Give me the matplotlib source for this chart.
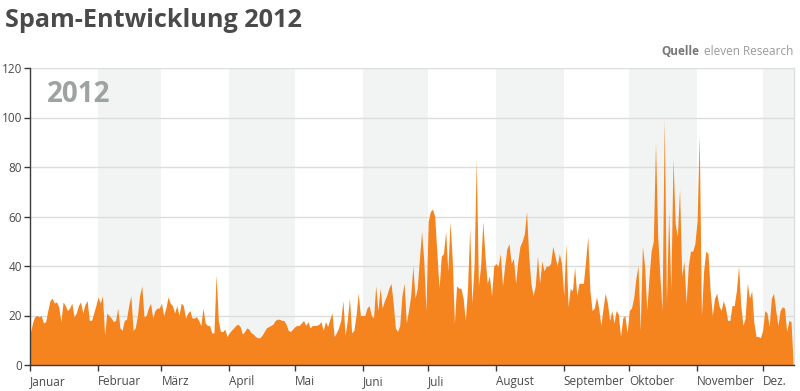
import numpy as np
import matplotlib
matplotlib.use("Agg")
import matplotlib.pyplot as plt

# ---- data -------------------------------------------------------------
# daily spam index, 1 Jan 2012 .. 15 Dec 2012 (day index 0..349)
spam_values = [
    12.8, 17, 19.5, 20, 19.5, 20, 17, 17.5, 22, 26,
    27, 25, 25.5, 23.5, 17.5, 25.5, 24, 22, 23, 25,
    19.5, 21, 24, 25.5, 21, 24.5, 26, 18, 18, 21,
    24, 27.5, 25, 28, 12, 21, 20, 19, 17.5, 18,
    23, 15, 14, 18, 18.5, 24, 28, 14, 15, 20,
    28, 32, 19.5, 20, 23, 25, 19, 22, 23, 23,
    25, 20, 23, 27.5, 25, 24, 21, 24, 20, 25,
    24, 19, 21, 22, 19, 19, 19.5, 18, 16, 23,
    17, 16, 16, 13, 13, 36.5, 18, 13.5, 13.5, 14.5,
    11.5, 13, 14, 15, 16, 16.5, 15.5, 12.5, 13.5, 15,
    14.5, 13, 12.5, 11.5, 11, 11, 12, 13.5, 15, 15.5,
    16, 16.5, 18, 18.5, 18.5, 18, 18, 16.5, 14, 13.5,
    14.5, 15.5, 16, 16, 17, 18, 16, 17.5, 15, 16,
    16, 16, 16.5, 17.5, 14, 17.5, 15.5, 18.5, 21, 11.5,
    13, 15, 18, 26, 12, 18, 27, 13, 14, 20,
    29, 20, 20, 20, 23, 24, 20, 19, 32, 22,
    31, 23, 26, 28, 31, 33, 25, 15, 13.5, 16,
    28, 33, 17, 22, 28, 40, 27, 31, 43, 54,
    42, 22, 58, 62, 63, 60, 45, 31, 44, 45,
    54, 38, 58, 43, 17, 32, 31, 31, 27, 18,
    31, 55, 25, 40, 83, 32, 40, 58, 44, 33,
    36, 28, 40, 41, 40, 45, 32, 40, 47, 49,
    41, 43, 33, 42, 48, 50, 53, 62, 44, 33,
    28, 32, 44, 33, 42, 38, 40, 40, 41, 48,
    44, 40, 45, 41, 28, 49, 23.5, 31, 30, 39.5,
    28, 33, 33, 33, 42, 52, 30, 22, 23, 27.5,
    23, 16, 23, 29, 25, 18, 22, 17, 22, 20.5,
    11.5, 19, 20, 13, 22, 23, 27, 35, 40, 14,
    48, 40, 22, 35, 46, 50, 90, 52, 36, 22,
    99.5, 25, 62, 30, 83.5, 57, 52, 71, 36, 42,
    25, 40, 46, 46, 49, 58, 93, 20, 38, 46,
    45, 30, 20, 27, 29, 24, 22, 26, 23, 18,
    18, 24, 24, 30, 40, 24, 16, 19, 33, 27,
    30, 17, 11.5, 11.5, 11, 14, 22, 21, 15.5, 27,
    29, 22, 16, 22, 23.5, 23, 13.5, 18, 17.5, 0,
]
days = np.arange(len(spam_values))

month_labels = ["Januar", "Februar", "März", "April", "Mai", "Juni", "Juli",
                "August", "September", "Oktober", "November", "Dez."]
month_starts = [0, 31, 60, 91, 121, 152, 182, 213, 244, 274, 305, 335]
month_ends = month_starts[1:] + [366]
y_ticks = [0, 20, 40, 60, 80, 100, 120]

title = "Spam-Entwicklung 2012"
year_label = "2012"

# ---- style ------------------------------------------------------------
FONT = "Open Sans"
plt.rcParams["font.family"] = [FONT, "DejaVu Sans"]
orange = "#f5841f"
band = "#f2f4f4"
grid = "#dcdddd"
axis_col = "#3a3a3a"
text_col = "#4a4a4a"

fig = plt.figure(figsize=(8.0, 3.91), dpi=100)
ax = fig.add_axes([30.3 / 800, 26 / 391, (794 - 30.3) / 800, 297 / 391])

x_max = 349.35
ax.set_xlim(0, x_max)
ax.set_ylim(0, 120)

# alternating month bands
for i, (s, e) in enumerate(zip(month_starts, month_ends)):
    if i % 2 == 1:
        ax.axvspan(s, min(e, x_max), color=band, lw=0, zorder=0)

for yv in y_ticks[1:]:
    ax.axhline(yv, color=grid, lw=1.0, zorder=1)

ax.fill_between(days, spam_values, 0, color=orange, lw=0, zorder=2)

# axes
ax.spines["top"].set_visible(False)
ax.spines["right"].set_color(grid)
ax.spines["right"].set_linewidth(1.0)
for side in ["left", "bottom"]:
    ax.spines[side].set_color(axis_col)
    ax.spines[side].set_linewidth(1.0)
    ax.spines[side].set_zorder(3)

ax.set_yticks(y_ticks)
ax.set_yticklabels([str(v) for v in y_ticks])
ax.set_xticks(month_starts)
ax.set_xticklabels(month_labels, ha="left")
ax.tick_params(axis="y", length=4, width=1, color=axis_col, pad=2,
               labelsize=8.5, labelcolor=text_col)
ax.tick_params(axis="x", length=4, width=1, color=axis_col, pad=3.5,
               labelsize=8.5, labelcolor=text_col)

ax.text(0.022, 0.886, year_label, transform=ax.transAxes, fontsize=20,
        fontweight="bold", color="#9ca3a1", va="baseline", ha="left", zorder=4)

fig.text(5 / 800, 1 - 27 / 391, title, fontsize=18.2, fontweight="bold",
         color="#4a4a4a", ha="left", va="baseline")

t2 = fig.text(793 / 800, 1 - 55 / 391, "eleven Research", fontsize=8.5,
              color="#9a9a9a", ha="right", va="baseline")
fig.canvas.draw()
bb = t2.get_window_extent()
fig.text((bb.x0 - 4) / 800, 1 - 55 / 391, "Quelle", fontsize=8.5,
         fontweight="bold", color="#777777", ha="right", va="baseline")

fig.savefig("out.png", dpi=100)
